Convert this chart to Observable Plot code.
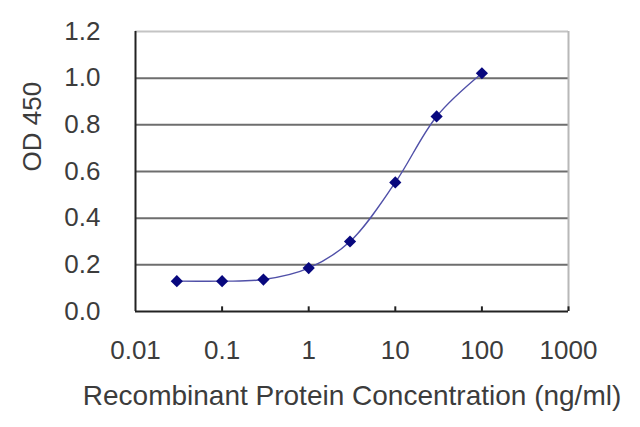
<!DOCTYPE html>
<html>
<head>
<meta charset="utf-8">
<script src="https://cdn.jsdelivr.net/npm/d3@7"></script>
<script src="https://cdn.jsdelivr.net/npm/@observablehq/plot@0.6"></script>
<style>
  html, body { margin: 0; padding: 0; background: #fff; }
  svg { display: block; }
</style>
</head>
<body>
<div id="chart"></div>
<script>
const concentration = [0.03, 0.1, 0.3, 1, 3, 10, 30, 100];
const od450 = [0.130, 0.130, 0.137, 0.186, 0.300, 0.553, 0.836, 1.021];
const xTicks = [0.01, 0.1, 1, 10, 100, 1000];
const xTickLabels = ["0.01", "0.1", "1", "10", "100", "1000"];
const yTicks = [0, 0.2, 0.4, 0.6, 0.8, 1.0, 1.2];
const yTickLabels = ["0.0", "0.2", "0.4", "0.6", "0.8", "1.0", "1.2"];

const data = concentration.map((c, i) => ({c, v: od450[i]}));
const xLabelRows = xTicks.map((t, i) => ({t, label: xTickLabels[i]}));
const font = "Liberation Sans, Arial, sans-serif";
const textColor = "#3c3c3c";

const chart = Plot.plot({
  width: 640,
  height: 427,
  marginLeft: 135,
  marginRight: 72,
  marginTop: 31,
  marginBottom: 116,
  style: {fontFamily: font, background: "#fff"},
  x: {type: "log", domain: [0.01, 1000], axis: null},
  y: {domain: [0, 1.2]},
  marks: [
    Plot.ruleY(yTicks.filter(d => d > 0 && d < 1.2), {stroke: "#6e6e6e", strokeWidth: 2}),
    Plot.ruleY([1.2], {stroke: "#c4c4c4", strokeWidth: 2}),
    Plot.ruleX([1000], {stroke: "#b8b8b8", strokeWidth: 2}),
    Plot.ruleX([0.01], {stroke: "#222", strokeWidth: 2}),
    Plot.ruleY([0], {stroke: "#222", strokeWidth: 2}),
    Plot.ruleX(xTicks.slice(1), {x: d => d, y1: 0, y2: 0.02, stroke: "#222", strokeWidth: 2}),
    Plot.text(xLabelRows, {x: "t", y: yTicks[0], text: "label", dy: 39,
      fontSize: 26, fill: textColor}),
    Plot.axisY({ticks: yTicks, tickFormat: d => yTickLabels[yTicks.indexOf(d)], tickSize: 0, tickPadding: 35,
      fontSize: 26, color: textColor, label: null}),
    Plot.text(["Recombinant Protein Concentration (ng/ml)"], {frameAnchor: "bottom", dy: 85,
      lineAnchor: "middle", fontSize: 28, fill: textColor, text: d => d}),
    Plot.text(["OD 450"], {frameAnchor: "left", dx: -103, dy: 0, rotate: -90,
      fontSize: 26, fill: textColor, text: d => d}),
    Plot.line(data, {x: "c", y: "v", curve: "catmull-rom", stroke: "#5050a8", strokeWidth: 1.4}),
    Plot.dot(data, {x: "c", y: "v", symbol: "diamond2", r: 5.5, fill: "#08087e", stroke: "none"})
  ]
});
document.getElementById("chart").appendChild(chart);
</script>
</body>
</html>
